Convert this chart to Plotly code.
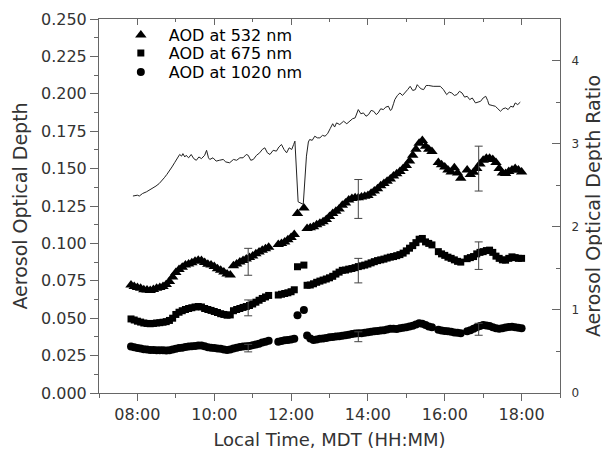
import plotly.graph_objects as go

# ---------------- data ----------------
aod_times = [
    "07:50","07:55","08:00","08:05","08:10","08:15","08:20","08:25","08:30","08:35",
    "08:40","08:45","08:50","08:55","09:00","09:05","09:10","09:15","09:20","09:25",
    "09:30","09:35","09:40","09:45","09:50","09:55","10:00","10:05","10:10","10:15",
    "10:20","10:25","10:30","10:35","10:40","10:45","10:50","10:55","11:00","11:05",
    "11:10","11:15","11:20","11:25","11:40","11:45","11:50","11:55","12:00","12:05",
    "12:10","12:20","12:25","12:30","12:35","12:40","12:45","12:50","12:55","13:00",
    "13:05","13:10","13:15","13:20","13:25","13:30","13:35","13:40","13:45","13:50",
    "13:55","14:00","14:05","14:10","14:15","14:20","14:25","14:30","14:35","14:40",
    "14:45","14:50","14:55","15:00","15:05","15:10","15:15","15:20","15:25","15:30",
    "15:35","15:40","15:50","15:55","16:00","16:05","16:10","16:15","16:20","16:25",
    "16:35","16:40","16:45","16:50","16:55","17:00","17:05","17:10","17:15","17:20",
    "17:25","17:30","17:35","17:40","17:45","17:50","17:55","18:00",
]
aod_532 = [
    .0722,.0712,.0705,.0700,.0690,.0688,.0685,.0692,.0700,.0705,
    .0712,.0725,.0745,.0775,.0805,.0825,.0840,.0855,.0862,.0870,
    .0880,.0888,.0885,.0872,.0860,.0855,.0845,.0830,.0820,.0808,
    .0795,.0788,.0850,.0862,.0875,.0885,.0895,.0905,.0915,.0930,
    .0942,.0955,.0965,.0975,.0992,.1000,.1010,.1025,.1040,.1060,
    .1200,.1236,.1100,.1105,.1112,.1125,.1135,.1145,.1160,.1180,
    .1200,.1215,.1230,.1255,.1270,.1290,.1300,.1305,.1305,.1310,
    .1315,.1320,.1335,.1350,.1365,.1385,.1400,.1415,.1430,.1450,
    .1465,.1480,.1500,.1520,.1550,.1590,.1630,.1670,.1688,.1650,
    .1630,.1615,.1540,.1525,.1510,.1490,.1478,.1505,.1470,.1435,
    .1490,.1460,.1475,.1500,.1530,.1556,.1570,.1570,.1560,.1540,
    .1500,.1470,.1468,.1480,.1490,.1500,.1490,.1478,
]
aod_675 = [
    .0495,.0488,.0480,.0474,.0468,.0465,.0463,.0465,.0468,.0470,
    .0473,.0477,.0485,.0500,.0525,.0540,.0550,.0558,.0565,.0570,
    .0575,.0578,.0575,.0565,.0558,.0552,.0545,.0538,.0530,.0525,
    .0520,.0522,.0550,.0558,.0565,.0572,.0578,.0585,.0595,.0607,
    .0620,.0632,.0642,.0652,.0655,.0660,.0665,.0670,.0677,.0690,
    .0844,.0855,.0720,.0722,.0730,.0740,.0748,.0755,.0762,.0770,
    .0780,.0795,.0808,.0820,.0822,.0828,.0832,.0838,.0845,.0850,
    .0855,.0862,.0870,.0878,.0885,.0890,.0895,.0902,.0908,.0912,
    .0918,.0925,.0935,.0950,.0968,.0985,.1005,.1028,.1033,.1010,
    .1000,.0990,.0945,.0930,.0920,.0908,.0900,.0890,.0880,.0875,
    .0898,.0905,.0912,.0930,.0940,.0945,.0952,.0955,.0940,.0915,
    .0900,.0890,.0888,.0900,.0910,.0905,.0900,.0900,
]
aod_1020 = [
    .0310,.0305,.0300,.0297,.0293,.0290,.0288,.0287,.0286,.0285,
    .0285,.0284,.0286,.0290,.0295,.0300,.0303,.0307,.0310,.0312,
    .0315,.0318,.0317,.0312,.0306,.0302,.0300,.0298,.0295,.0290,
    .0288,.0290,.0298,.0302,.0307,.0310,.0312,.0315,.0320,.0325,
    .0330,.0337,.0343,.0350,.0343,.0347,.0352,.0355,.0358,.0362,
    .0520,.0554,.0385,.0365,.0355,.0358,.0362,.0365,.0368,.0372,
    .0375,.0378,.0380,.0383,.0386,.0390,.0394,.0397,.0399,.0400,
    .0403,.0406,.0410,.0412,.0415,.0418,.0420,.0425,.0430,.0430,
    .0428,.0432,.0436,.0440,.0445,.0450,.0458,.0466,.0463,.0455,
    .0445,.0440,.0422,.0418,.0415,.0412,.0410,.0405,.0402,.0400,
    .0412,.0420,.0430,.0440,.0448,.0454,.0452,.0448,.0440,.0432,
    .0430,.0433,.0437,.0442,.0443,.0440,.0436,.0432,
]

err_times = ["10:53", "13:45", "16:53"]
err_532_center = [0.0877, 0.1297, 0.150]
err_532 = [0.0090, 0.0130, 0.0150]
err_675_center = [0.0569, 0.0818, 0.0918]
err_675 = [0.0053, 0.0082, 0.0092]
err_1020_center = [0.0300, 0.0376, 0.0426]
err_1020 = [0.0025, 0.0033, 0.0040]

ratio_times = [
    "07:53","08:00","08:03","08:08","08:14","08:19","08:24","08:29","08:34","08:38",
    "08:42","08:46","08:50","08:54","08:58","09:03","09:06","09:09","09:11","09:14",
    "09:16","09:20","09:24","09:28","09:32","09:36","09:40","09:45","09:48","09:51",
    "09:53","09:58","10:03","10:08","10:14","10:18","10:24","10:30","10:35","10:40",
    "10:45","10:50","10:53","10:57","11:01","11:06","11:11","11:15","11:19","11:23",
    "11:27","11:32","11:37","11:41","11:45","11:49","11:53","11:57","12:01","12:04",
    "12:06","12:11","12:19","12:24","12:27","12:29","12:33","12:37","12:41","12:45",
    "12:49","12:53","12:57","13:01","13:05","13:08","13:11","13:16","13:22","13:27",
    "13:32","13:36","13:40","13:43","13:45","13:49","13:53","13:57","14:01","14:05",
    "14:09","14:13","14:16","14:20","14:24","14:28","14:32","14:35","14:37","14:40",
    "14:42","14:46","14:50","14:54","14:58","15:02","15:06","15:10","15:14","15:17",
    "15:19","15:23","15:27","15:31","15:35","15:42","15:53","15:58","16:03","16:07",
    "16:11","16:15","16:19","16:23","16:27","16:31","16:35","16:39","16:43","16:48",
    "16:52","16:56","17:00","17:04","17:07","17:09","17:14","17:19","17:23","17:27",
    "17:31","17:35","17:39","17:43","17:47","17:50","17:54","17:58",
]
ratio_values = [
    2.37,2.38,2.37,2.40,2.42,2.44,2.47,2.49,2.52,2.55,
    2.59,2.63,2.67,2.72,2.77,2.83,2.87,2.85,2.88,2.84,
    2.86,2.83,2.87,2.82,2.80,2.84,2.82,2.86,2.92,2.83,
    2.81,2.83,2.79,2.80,2.81,2.78,2.77,2.81,2.80,2.83,
    2.83,2.87,2.86,2.80,2.81,2.86,2.89,2.93,2.95,2.89,
    2.87,2.92,2.91,2.96,2.99,2.93,2.89,2.95,2.93,2.99,
    3.03,2.30,2.27,2.85,3.02,3.05,3.04,3.09,3.07,3.07,
    3.10,3.09,3.12,3.18,3.24,3.20,3.25,3.23,3.27,3.24,
    3.27,3.30,3.31,3.38,3.41,3.36,3.37,3.33,3.35,3.40,
    3.39,3.35,3.37,3.42,3.41,3.44,3.45,3.40,3.41,3.48,
    3.53,3.58,3.61,3.58,3.61,3.65,3.69,3.64,3.65,3.71,
    3.69,3.66,3.65,3.70,3.70,3.69,3.69,3.65,3.59,3.62,
    3.61,3.58,3.59,3.63,3.61,3.56,3.57,3.53,3.55,3.49,
    3.50,3.51,3.55,3.57,3.52,3.47,3.46,3.45,3.42,3.39,
    3.42,3.43,3.41,3.45,3.44,3.49,3.47,3.50,
]

legend_names = ["AOD at 532 nm", "AOD at 675 nm", "AOD at 1020 nm"]
x_tick_range = ["07:00", "19:00"]

# ---------------- figure ----------------
DAY = "2000-01-01 "
def tx(ts):
    return [DAY + t for t in ts]

FONT = "DejaVu Sans"
TXT = "#333333"
AX = "#666666"

fig = go.Figure()

# ratio line on secondary axis
fig.add_trace(go.Scatter(
    x=tx(ratio_times), y=ratio_values, mode="lines", yaxis="y2",
    line=dict(color="#222222", width=1), showlegend=False, hoverinfo="skip"))

series = [
    (aod_532, "triangle-up", 10, err_532_center, err_532),
    (aod_675, "square", 7, err_675_center, err_675),
    (aod_1020, "circle", 8, err_1020_center, err_1020),
]
legend_ids = ["legend", "legend2", "legend3"]
for (vals, sym, size, ec, ee), name, lg in zip(series, legend_names, legend_ids):
    fig.add_trace(go.Scatter(
        x=tx(aod_times), y=vals, mode="markers", name=name, legend=lg,
        marker=dict(symbol=sym, size=size, color="black", line=dict(width=0))))
for (vals, sym, size, ec, ee), name in zip(series, legend_names):
    fig.add_trace(go.Scatter(
        x=tx(err_times), y=ec, mode="markers", showlegend=False,
        marker=dict(size=1, color="rgba(0,0,0,0)"),
        error_y=dict(type="data", array=ee, visible=True, color="#444444",
                     thickness=1, width=4)))

def leg(yc):
    return dict(x=0.03, y=yc, xanchor="left", yanchor="middle", itemwidth=46,
                bgcolor="rgba(0,0,0,0)", font=dict(size=16, family=FONT, color="black"),
                itemsizing="trace")

# the page body adds an 8px offset, so the figure is sized to end at the window edge
fig.update_layout(
    width=602, height=447,
    margin=dict(l=91, r=50, t=11, b=62, autoexpand=False),
    paper_bgcolor="white", plot_bgcolor="white",
    font=dict(family=FONT, color=TXT, size=16),
    legend=leg(0.957), legend2=leg(0.909), legend3=leg(0.858),
    xaxis=dict(
        type="date", range=tx(x_tick_range), automargin=False,
        tick0=DAY + "08:00", dtick=7200000, tickformat="%H:%M",
        ticks="outside", ticklen=7, tickcolor=AX, tickwidth=1,
        minor=dict(dtick=3600000, ticks="outside", ticklen=4, tickcolor=AX),
        showline=True, linecolor=AX, linewidth=1, showgrid=False, zeroline=False,
        tickfont=dict(size=16, family=FONT, color=TXT),
        title=dict(text="Local Time, MDT (HH:MM)", standoff=10,
                   font=dict(size=18, family=FONT, color=TXT)),
    ),
    xaxis2=dict(
        type="date", overlaying="x", side="top", matches="x", anchor="y",
        automargin=False,
        tick0=DAY + "08:00", dtick=7200000,
        ticks="inside", ticklen=6, tickcolor=AX, tickwidth=1,
        minor=dict(dtick=3600000, ticks="inside", ticklen=3, tickcolor=AX),
        showline=True, linecolor=AX, linewidth=1, showgrid=False,
        showticklabels=False, zeroline=False,
    ),
    yaxis=dict(
        range=[0, 0.25], dtick=0.025, tickformat=".3f", automargin=False,
        ticks="outside", ticklen=8, tickcolor=AX, tickwidth=1,
        minor=dict(dtick=0.0125, ticks="outside", ticklen=4, tickcolor=AX),
        showline=True, linecolor=AX, linewidth=1, showgrid=False, zeroline=False,
        tickfont=dict(size=16, family=FONT, color=TXT),
        title=dict(text="Aerosol Optical Depth", standoff=8,
                   font=dict(size=19, family=FONT, color=TXT)),
    ),
    yaxis2=dict(
        overlaying="y", side="right", range=[0, 4.5], dtick=1, automargin=False,
        ticks="inside", ticklen=8, tickcolor=AX, tickwidth=1,
        minor=dict(dtick=0.5, ticks="inside", ticklen=4, tickcolor=AX),
        showline=True, linecolor=AX, linewidth=1, showgrid=False, zeroline=False,
        ticklabelstandoff=8,
        tickfont=dict(size=12, family=FONT, color=TXT),
        title=dict(text="Aerosol Optical Depth Ratio", standoff=8,
                   font=dict(size=19, family=FONT, color=TXT)),
    ),
)

fig.add_trace(go.Scatter(x=[DAY + "12:00"], y=[None], xaxis="x2", showlegend=False,
                         hoverinfo="skip"))

fig.write_html("out.html")
